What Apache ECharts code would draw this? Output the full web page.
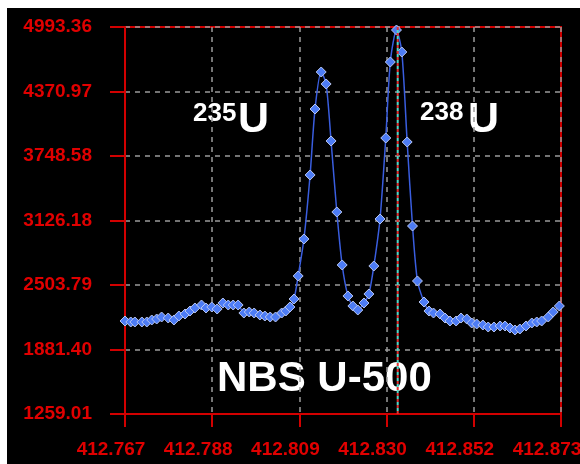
<!DOCTYPE html>
<html><head><meta charset="utf-8">
<script src="https://cdn.jsdelivr.net/npm/echarts@6/dist/echarts.min.js"></script>
<style>html,body{margin:0;padding:0;background:#fff;width:580px;height:464px;overflow:hidden}#c{position:absolute;left:7px;top:8px;width:573px;height:456px;background:#000}</style>
</head><body><div id="c"></div>
<script>
// m/z values (x) and intensities (y)
const massValues = [
412.7670,412.7684,412.7694,412.7711,412.7723,412.7735,412.7747,412.7759,412.7775,412.7789,
412.7801,412.7816,412.7828,412.7840,412.7856,412.7867,412.7881,412.7894,412.7908,412.7921,
412.7933,412.7945,412.7959,412.7972,412.7984,412.7998,412.8010,412.8023,412.8036,412.8051,
412.8061,412.8071,412.8081,412.8091,412.8105,412.8120,412.8132,412.8147,412.8159,412.8171,
412.8185,412.8198,412.8212,412.8224,412.8236,412.8251,412.8263,412.8275,412.8290,412.8304,
412.8315,412.8330,412.8343,412.8356,412.8369,412.8381,412.8397,412.8409,412.8420,412.8436,
412.8448,412.8460,412.8475,412.8487,412.8501,412.8513,412.8525,412.8540,412.8553,412.8567,
412.8582,412.8594,412.8606,412.8618,412.8630,412.8645,412.8659,412.8671,412.8683,412.8699,
412.8711,412.8726];
const intensityValues = [
2156.5,2146.8,2146.8,2146.8,2146.8,2166.1,2175.7,2195.0,2185.3,2166.1,
2204.6,2224.0,2252.9,2281.9,2310.8,2281.9,2291.5,2272.2,2330.1,2310.8,
2310.8,2310.8,2233.6,2243.3,2233.6,2214.3,2204.6,2195.0,2195.0,2233.6,
2252.9,2291.5,2368.7,2590.7,2947.7,3565.3,4202.1,4559.2,4443.4,3893.4,
3208.2,2696.8,2397.7,2301.2,2262.6,2330.1,2417.0,2687.2,3140.7,3922.3,
4655.7,4964.4,4752.1,3883.7,3073.1,2542.4,2339.8,2252.9,2233.6,2224.0,
2185.3,2156.5,2156.5,2185.3,2175.7,2137.1,2127.5,2117.8,2098.5,2098.5,
2108.2,2108.2,2088.9,2069.6,2079.2,2108.2,2137.1,2146.8,2156.5,2195.0,
2243.3,2301.2];
const xTickValues = [412.767, 412.7882, 412.8094, 412.8306, 412.8518, 412.873];
const xTickLabels = ['412.767','412.788','412.809','412.830','412.852','412.873'];
const yTickValues = [1259.01, 1881.40, 2503.79, 3126.18, 3748.58, 4370.97, 4993.36];
const yTickLabels = ['1259.01','1881.40','2503.79','3126.18','3748.58','4370.97','4993.36'];
const peakMarkerX = 412.8333;
const isotopeMasses = ['235','238'];
const elementSymbol = 'U';
const sampleName = 'NBS U-500';

const RED = '#d20000';
const LABEL_RED = '#e00000';
function nearestIdx(arr, v){let b=0,d=Infinity;arr.forEach((a,i)=>{const e=Math.abs(a-v);if(e<d){d=e;b=i;}});return b;}
const yMin = yTickValues[0], yMax = yTickValues[yTickValues.length-1];
const markerData = [[peakMarkerX, yMin], [peakMarkerX, yMax]];

const chart = echarts.init(document.getElementById('c'), null, {renderer:'canvas'});
const font = '"Liberation Sans", Arial, sans-serif';
const option = {
  backgroundColor:'#000',
  animation:false,
  grid:{left:118, right:19, top:19, bottom:50, outerBoundsMode:'none', containLabel:false,
        show:true, borderColor:RED, borderWidth:2, backgroundColor:'#000'},
  xAxis:{
    type:'value', min:xTickValues[0], max:xTickValues[xTickValues.length-1],
    axisLine:{show:true, onZero:false, lineStyle:{color:RED, width:2}},
    axisTick:{show:true, length:13, customValues:xTickValues, lineStyle:{color:RED, width:2}},
    axisLabel:{customValues:xTickValues, margin:26, color:LABEL_RED, fontSize:19, fontWeight:'bold', fontFamily:font,
      padding:[0,28,0,0], formatter:v=>xTickLabels[nearestIdx(xTickValues,v)]},
    splitLine:{show:true, lineStyle:{color:'#9a9a9a', type:[5,5], width:1.5}}
  },
  yAxis:{
    type:'value', min:yMin, max:yMax,
    axisLine:{show:true, onZero:false, lineStyle:{color:RED, width:2}},
    axisTick:{show:true, length:15, customValues:yTickValues, lineStyle:{color:RED, width:2}},
    axisLabel:{customValues:yTickValues, margin:33, color:LABEL_RED, fontSize:19, fontWeight:'bold', fontFamily:font,
      formatter:v=>yTickLabels[nearestIdx(yTickValues,v)]},
    splitLine:{show:true, lineStyle:{color:'#9a9a9a', type:[5,5], width:1.5}}
  },
  series:[
    {type:'line', data:markerData, symbol:'none', silent:true, z:4,
     lineStyle:{color:'#e03030', type:[3,3], width:2, dashOffset:0}},
    {type:'line', data:markerData, symbol:'none', silent:true, z:4,
     lineStyle:{color:'#50d8c8', type:[3,3], width:2, dashOffset:3}},
    {
    type:'line', smooth:0.25,
    data: massValues.map((x,i)=>[x,intensityValues[i]]),
    lineStyle:{color:'#3a5ee0', width:1.5},
    symbol:'diamond', symbolSize:10,
    itemStyle:{color:'#4d7cf5', borderColor:'#b8c6f0', borderWidth:1},
    z:3
  }],
  graphic:[
    {type:'text', left:186, top:93, style:{text:isotopeMasses[0], fill:'#fff', font:'bold 26px '+font}},
    {type:'text', left:231, top:91, style:{text:elementSymbol, fill:'#fff', font:'bold 43px '+font}},
    {type:'text', left:413, top:92, style:{text:isotopeMasses[1], fill:'#fff', font:'bold 26px '+font}},
    {type:'text', left:461, top:91, style:{text:elementSymbol, fill:'#fff', font:'bold 43px '+font}},
    {type:'text', left:210, top:350, style:{text:sampleName, fill:'#fff', font:'bold 42px '+font}}
  ]
};
chart.setOption(option);
</script></body></html>
